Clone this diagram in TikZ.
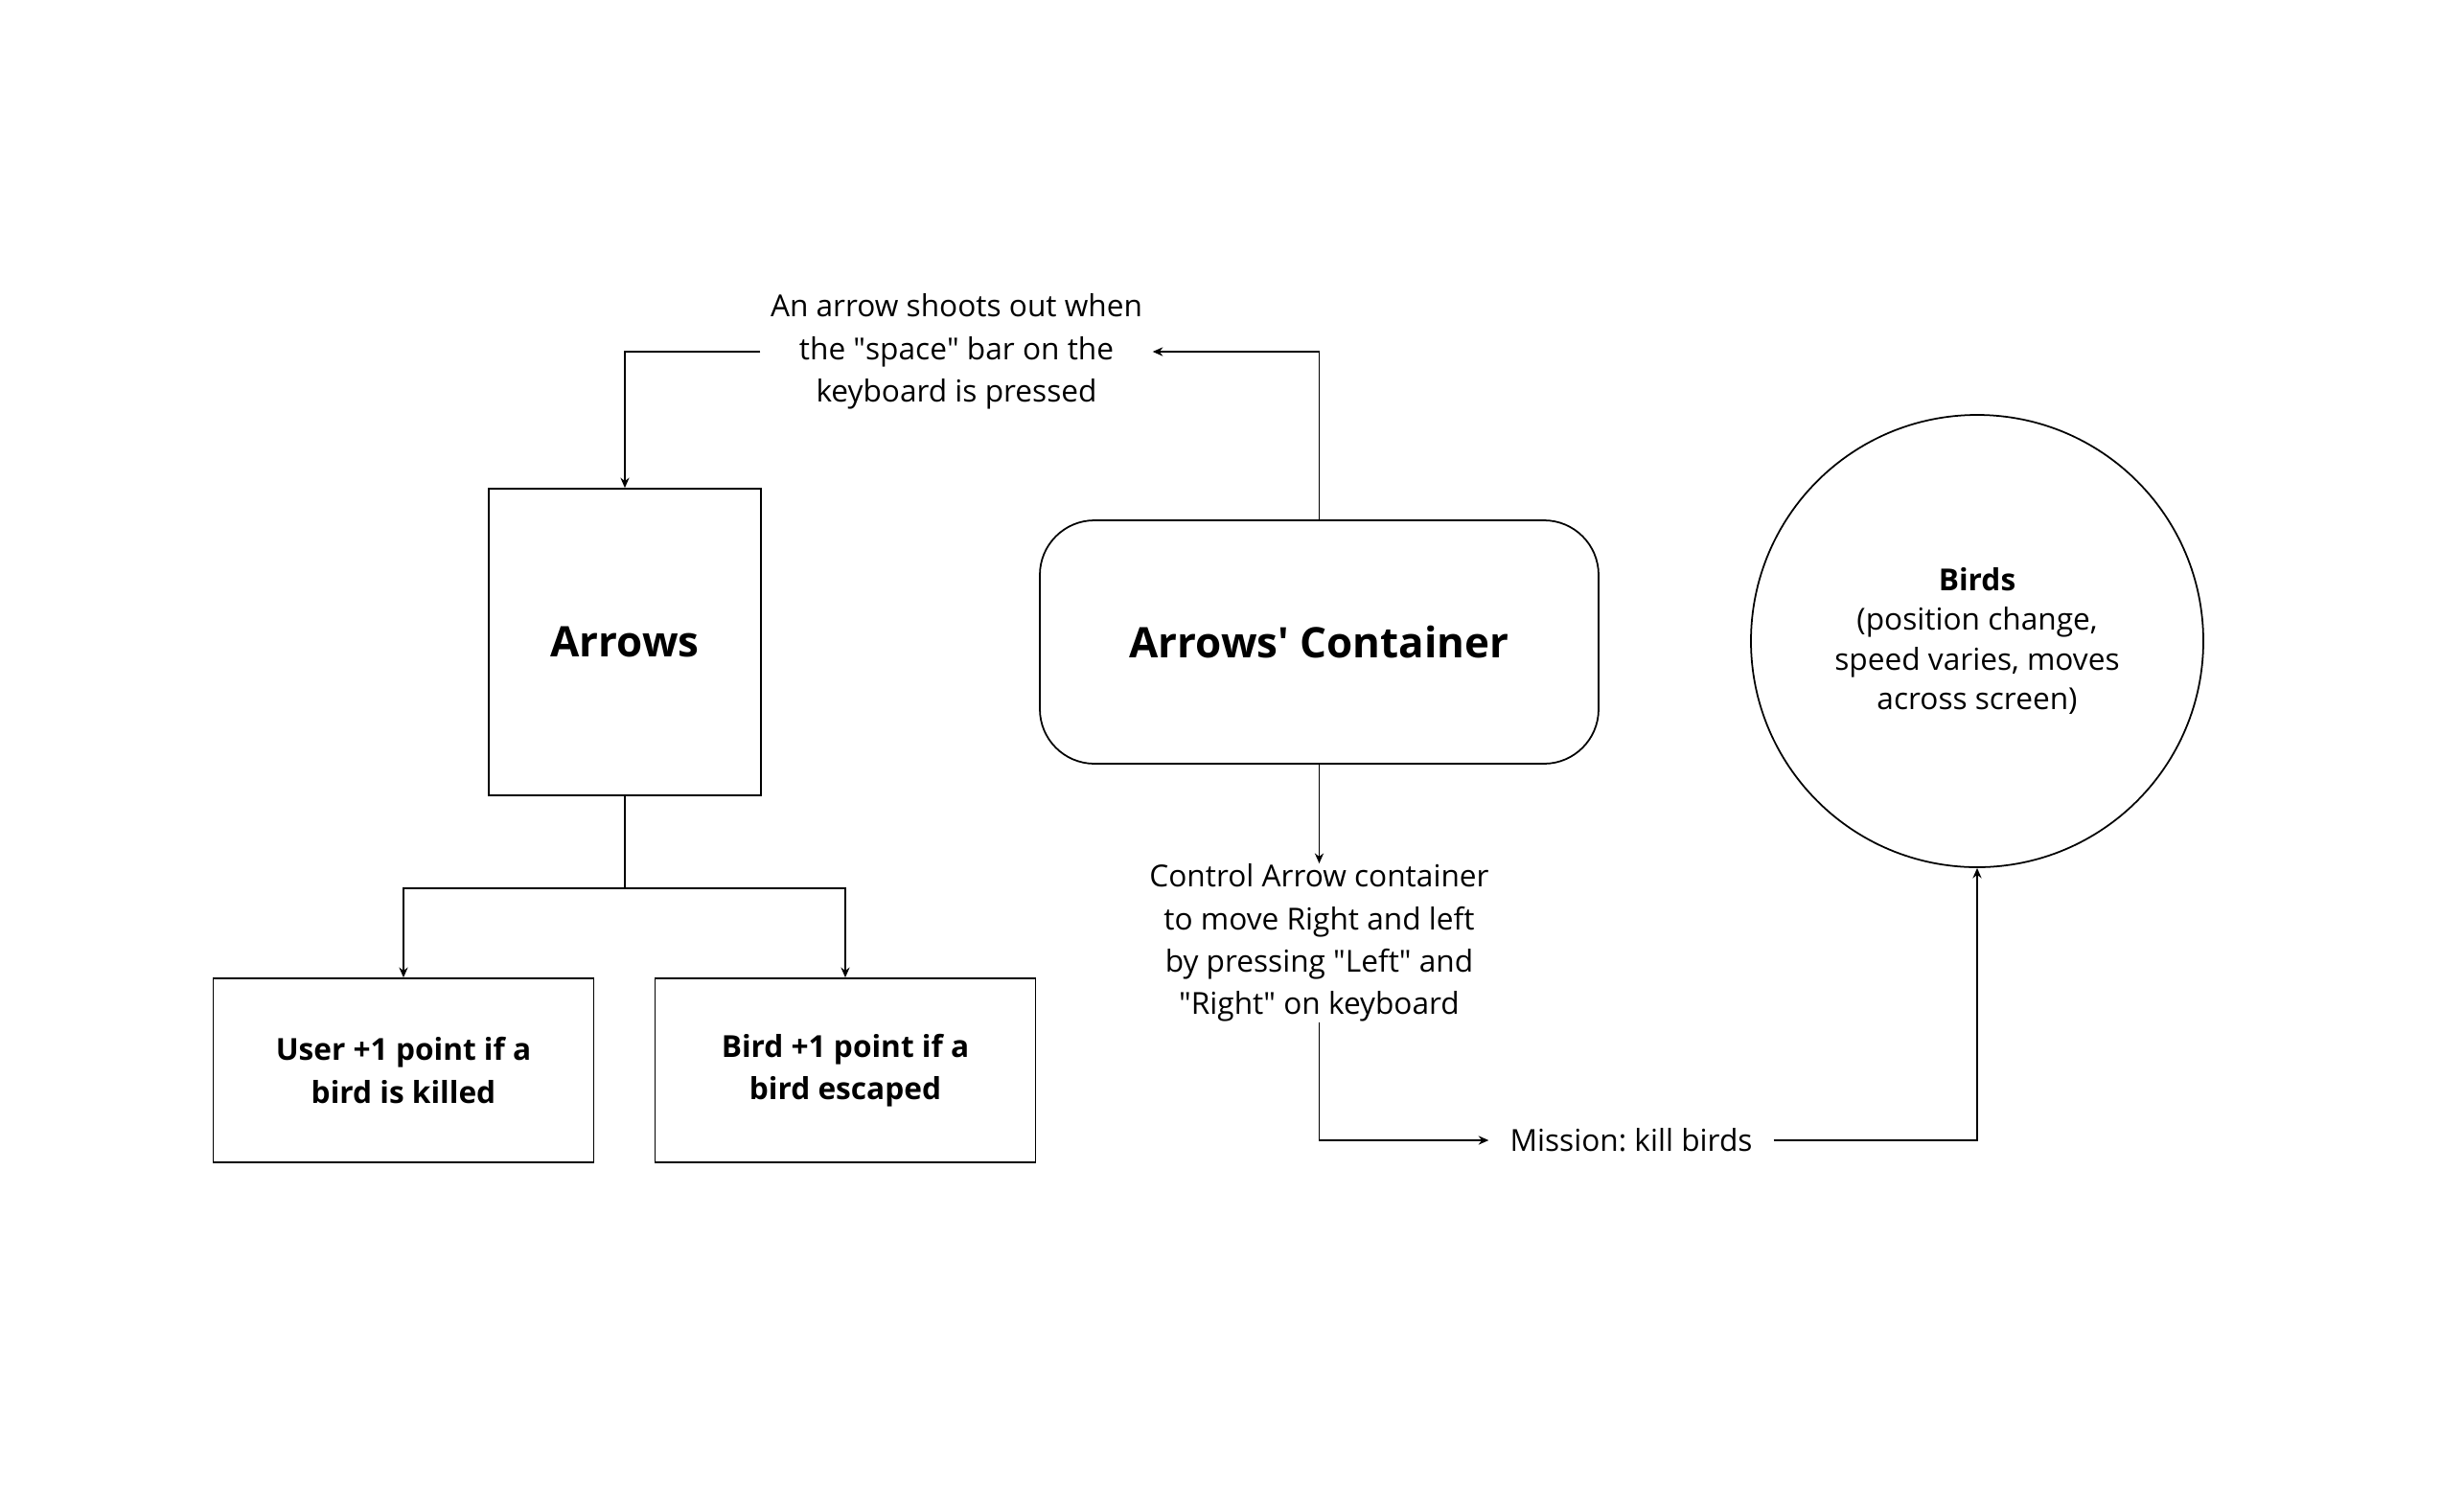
\documentclass[tikz,border=0pt]{standalone}
\usepackage{fontspec}
\setmainfont{Open Sans}
\frenchspacing
\usetikzlibrary{arrows.meta}

\tikzset{
    box/.style={draw, line width=0.5pt, align=center, inner sep=0pt,
                font=\fontsize{9}{12.6}\selectfont\bfseries},
    note/.style={align=center, inner sep=0pt,
                 font=\fontsize{9}{12.6}\selectfont},
    arr/.style={line width=0.5pt, -{Stealth[length=3pt,width=2.6pt]}},
    link/.style={line width=0.5pt}
}

\begin{document}
\begin{tikzpicture}
    \useasboundingbox (0, 0) rectangle (25.71, -15.55);

    % Arrows and the container
    \node [box, minimum width=2.84cm, minimum height=3.20cm,
           font=\fontsize{12.5}{15}\selectfont\bfseries]
          (arrows) at (6.52, -6.70) {Arrows};
    \node [box, rounded corners=0.57cm, minimum width=5.83cm, minimum height=2.54cm,
           font=\fontsize{12.5}{15}\selectfont\bfseries]
          (container) at (13.765, -6.70) {Arrows\textquotesingle{} Container};

    % Birds
    \node [box, circle, minimum size=4.72cm, font=\fontsize{9}{11.8}\selectfont]
          (birds) at (20.63, -6.69) {\textbf{Birds}\\(position change,\\speed varies, moves\\across screen)};

    % Points
    \node [box, minimum width=3.97cm, minimum height=1.92cm]
          (user) at (4.21, -11.17) {User +1 point if a\\bird is killed};
    \node [box, minimum width=3.97cm, minimum height=1.92cm]
          (bird) at (8.82, -11.17) {Bird +1 point if a\\bird escaped};

    % Notes
    \node [note, minimum width=4.08cm] (shoot) at (9.98, -3.67)
          {An arrow shoots out when\\the \textquotedbl space\textquotedbl{} bar on the\\keyboard is pressed};
    \node [note] (control) at (13.765, -9.84)
          {Control Arrow container\\to move Right and left\\by pressing \textquotedbl Left\textquotedbl{} and\\\textquotedbl Right\textquotedbl{} on keyboard};
    \node [note, minimum width=2.96cm] (mission) at (17.02, -11.90) {Mission: kill birds};

    % Edges
    \draw [arr] (container.north) |- (shoot.east);
    \draw [arr] (shoot.west) -| (arrows.north);

    \draw [link] (arrows.south) -- ++(0, -0.96) coordinate (split);
    \draw [arr] (split) -| (user.north);
    \draw [arr] (split) -| (bird.north);

    \draw [arr] (container.south) -- (control.north);
    \draw [arr] (control.south) |- (mission.west);
    \draw [arr] (mission.east) -| (birds.south);
\end{tikzpicture}
\end{document}
